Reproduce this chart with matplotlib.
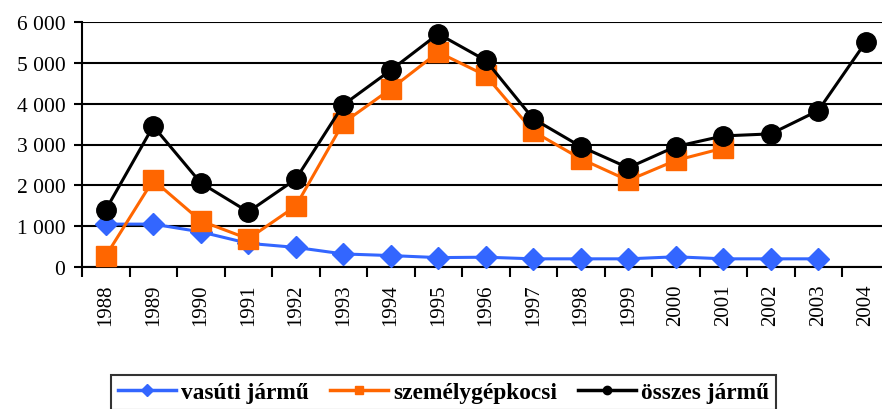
import matplotlib
matplotlib.use("Agg")
import matplotlib.pyplot as plt
import matplotlib.lines as mlines
from matplotlib.ticker import FuncFormatter, FixedLocator
import numpy as np

years = ["1988", "1989", "1990", "1991", "1992", "1993", "1994", "1995", "1996",
         "1997", "1998", "1999", "2000", "2001", "2002", "2003", "2004"]
vasuti = [1050, 1050, 860, 580, 480, 320, 280, 230, 240, 200, 200, 200, 250, 200, 200, 200, None]
szemely = [270, 2130, 1130, 690, 1490, 3530, 4360, 5260, 4690, 3320, 2650, 2120, 2610, 2910,
           None, None, None]
osszes = [1400, 3450, 2060, 1350, 2150, 3970, 4820, 5710, 5060, 3630, 2950, 2430, 2950, 3210,
          3260, 3830, 5510]

labels = ["vasúti jármű", "személygépkocsi", "összes jármű"]

plt.rcParams['font.family'] = ['Liberation Serif', 'DejaVu Serif']

fig = plt.figure(figsize=(8.82, 4.10), dpi=100)
W, H = 882, 410
left, right, top, bottom = 82, 889.5, 23, 268
ax = fig.add_axes([left / W, 1 - bottom / H, (right - left) / W, (bottom - top) / H])

x = np.arange(len(years))

def arr(v):
    return np.array([np.nan if a is None else a for a in v], dtype=float)

ax.plot(x, arr(vasuti), color='#3366FF', lw=2.2, marker='D', ms=11, label=labels[0], zorder=3,
        clip_on=False)
ax.plot(x, arr(szemely), color='#FF6600', lw=2.2, marker='s', ms=14, label=labels[1], zorder=4,
        clip_on=False)
ax.plot(x, arr(osszes), color='black', lw=2.2, marker='o', ms=14, label=labels[2], zorder=5,
        clip_on=False)

ax.set_xlim(-0.5, len(years) - 0.5)
ax.set_ylim(0, 6000)
ax.set_yticks(np.arange(0, 6001, 1000))
ax.yaxis.set_major_formatter(FuncFormatter(lambda v, p: f"{int(v):,}".replace(",", " ")))
ax.grid(axis='y', color='black', lw=1.5)
ax.set_axisbelow(True)

ax.set_xticks(x)
ax.set_xticklabels(years, rotation=90, fontsize=15)
ax.tick_params(axis='x', which='major', length=0, pad=12)
ax.xaxis.set_minor_locator(FixedLocator(np.arange(-0.5, len(years), 1.0)))
ax.tick_params(axis='x', which='minor', length=7, width=1.5, direction='out')
ax.tick_params(axis='y', labelsize=15.5, length=6, width=1.5, pad=6)

for s in ['top', 'right']:
    ax.spines[s].set_visible(False)
for s in ['left', 'bottom']:
    ax.spines[s].set_linewidth(1.5)
    ax.spines[s].set_color('black')

hs = [mlines.Line2D([], [], color='#3366FF', lw=2.5, marker='D', ms=6),
      mlines.Line2D([], [], color='#FF6600', lw=2.5, marker='s', ms=6),
      mlines.Line2D([], [], color='black', lw=2.5, marker='o', ms=6)]
leg = fig.legend(hs, labels, loc='upper left', bbox_to_anchor=(111 / W, 1 - 376 / H),
                 ncol=3, frameon=True, fancybox=False, edgecolor='black',
                 prop={'family': 'Liberation Serif', 'weight': 'bold', 'size': 16.8},
                 handlelength=2.5, handletextpad=0.2, columnspacing=0.9,
                 borderpad=0.3, borderaxespad=0)
leg.get_frame().set_linewidth(1.5)

fig.savefig("out.png", dpi=100)
